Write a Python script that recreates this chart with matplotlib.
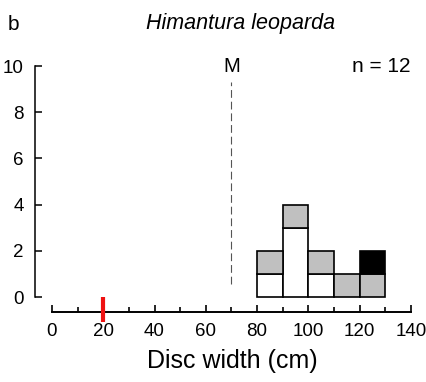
import matplotlib
matplotlib.use("Agg")
import matplotlib.pyplot as plt
import numpy as np

plt.rcParams['font.family'] = ['Liberation Sans', 'DejaVu Sans']

# Size classes (lower bin edge, cm) and counts per category stacked in each class
bin_left = [80, 90, 100, 110, 120]
white_counts = [1, 3, 1, 0, 0]
grey_counts = [1, 1, 1, 1, 1]
black_counts = [0, 0, 0, 0, 1]
bin_width = 10

maturity_dw = 70       # size at maturity (M)
birth_dw = 20          # size at birth marker
n_total = 12

x_ticks = [0, 20, 40, 60, 80, 100, 120, 140]
y_ticks = [0, 2, 4, 6, 8, 10]

fig = plt.figure(figsize=(4.27, 3.82), dpi=100)
W, H = 427, 382
ax_l, ax_r = 35, 413.5
ax_t, ax_b = 59.1, 312.3
ax = fig.add_axes([ax_l / W, 1 - ax_b / H, (ax_r - ax_l) / W, (ax_b - ax_t) / H])
ax.set_xlim(-6.63, 141)
ax.set_ylim(-0.66, 10.3)

white = np.array(white_counts)
grey = np.array(grey_counts)
black = np.array(black_counts)

# Stacked segments: white at the base, grey above, black on top
bar_kw = dict(width=bin_width, align='edge', edgecolor='black', linewidth=1.2, zorder=3)
for vals, base, color in ((white, 0, 'white'),
                          (grey, white, '#c0c0c0'),
                          (black, white + grey, 'black')):
    mask = vals > 0
    ax.bar(np.array(bin_left)[mask], vals[mask],
           bottom=np.broadcast_to(base, vals.shape)[mask], color=color, **bar_kw)

# Size at maturity
ax.plot([maturity_dw, maturity_dw], [0.55, 9.3], color='#555555',
        linestyle=(0, (7, 3.5)), linewidth=0.8)
ax.text(maturity_dw, 9.75, 'M', ha='center', va='baseline', fontsize=14.5)
ax.text(128.6, 9.75, f'n = {n_total}', ha='center', va='baseline', fontsize=15)

# Birth size marker across the axis
ax.plot([birth_dw, birth_dw], [0.0, -1.08], color='#ee1111', linewidth=3,
        solid_capstyle='butt', clip_on=False, zorder=5)

for side in ('top', 'right'):
    ax.spines[side].set_visible(False)
ax.spines['left'].set_bounds(0, 10)
ax.spines['bottom'].set_bounds(0, 140)
ax.spines['left'].set_linewidth(1.1)
ax.spines['bottom'].set_linewidth(1.4)

ax.set_xticks(x_ticks)
ax.set_xticks(np.arange(10, 140, 20), minor=True)
ax.set_yticks(y_ticks)
ax.tick_params(axis='x', direction='in', length=5, width=1.2, labelsize=13.5, pad=8)
ax.tick_params(axis='x', which='minor', direction='in', length=3.5, width=1.2)
ax.tick_params(axis='y', direction='in', length=5, width=1.1, labelsize=13.5, pad=8)

fig.text(232.5 / W, 1 - 368 / H, 'Disc width (cm)', ha='center', va='baseline',
         fontsize=18)
fig.text(241 / W, 1 - 28.5 / H, 'Himantura leoparda', style='italic',
         ha='center', va='baseline', fontsize=15.5)
fig.text(8 / W, 1 - 30 / H, 'b', ha='left', va='baseline', fontsize=15)

fig.savefig('out.png', dpi=100)
